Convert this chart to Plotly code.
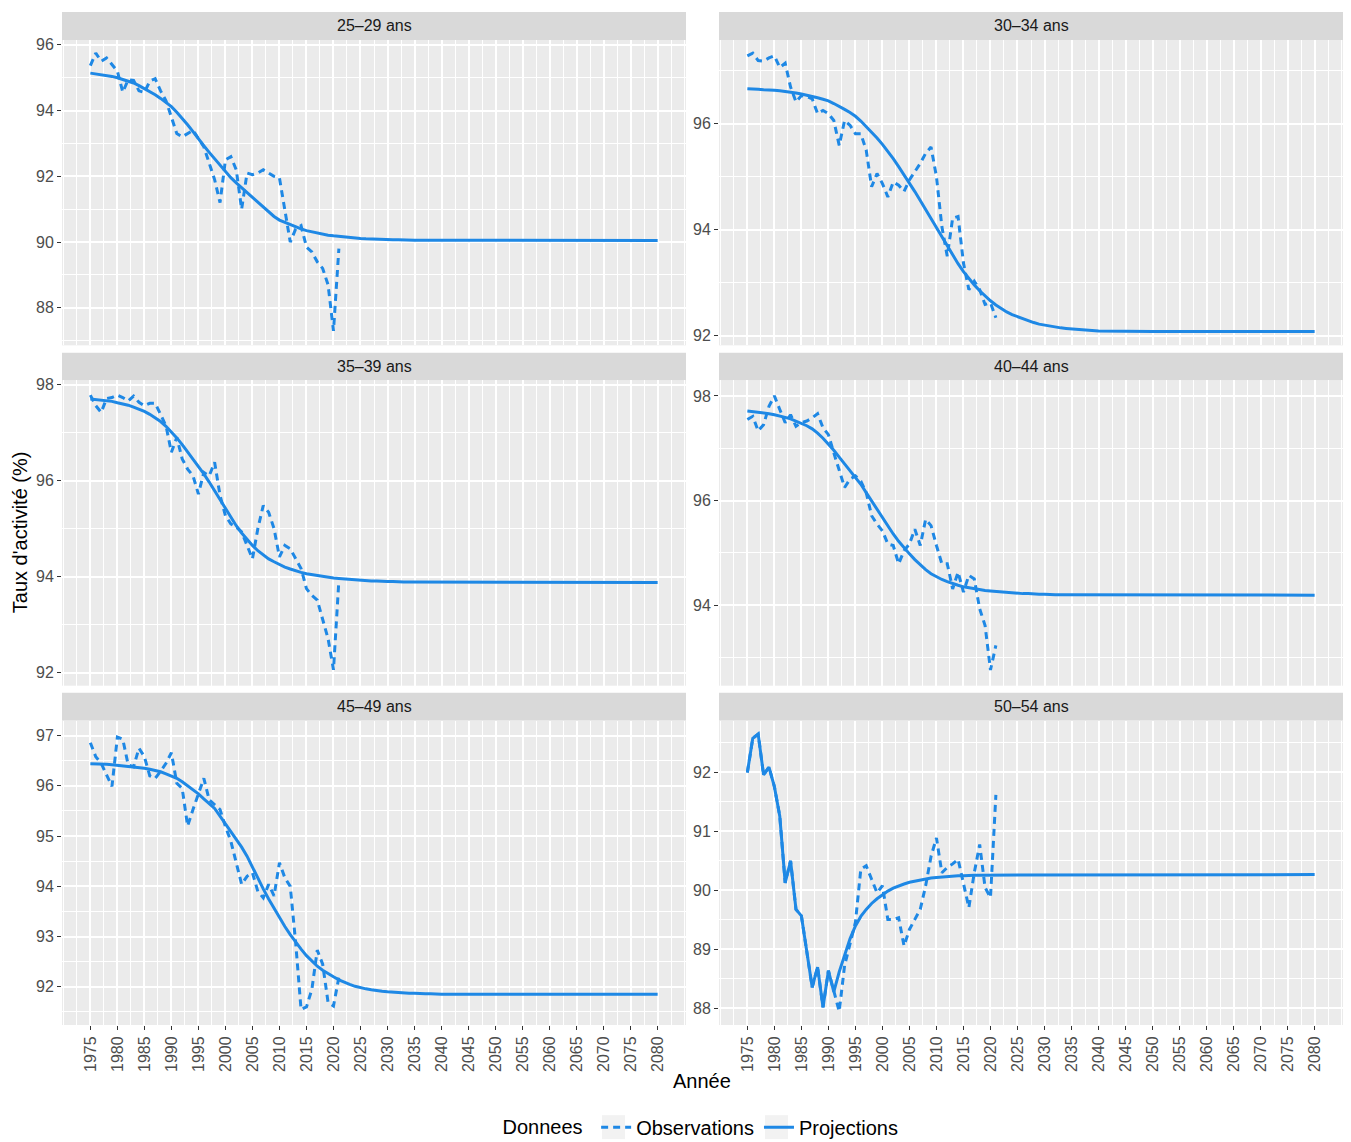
import plotly.graph_objects as go

# ---------------- data ----------------
panels = ["25–29 ans", "30–34 ans", "35–39 ans", "40–44 ans", "45–49 ans", "50–54 ans"]

obs_years = list(range(1975, 2022))
proj_years = list(range(1975, 2041)) + [2050, 2060, 2070, 2080]

obs_25_29 = [95.37, 95.75, 95.50, 95.60, 95.40, 95.20, 94.56, 94.94, 94.92, 94.60,
             94.55, 94.90, 94.97, 94.60, 94.30, 93.80, 93.30, 93.20, 93.30, 93.40,
             93.15, 92.90, 92.40, 91.90, 91.20, 92.50, 92.60, 92.20, 91.00, 92.10,
             92.05, 92.10, 92.20, 92.10, 92.00, 91.95, 91.00, 90.00, 90.40, 90.50,
             89.85, 89.70, 89.40, 89.20, 88.70, 87.30, 89.80]
obs_30_34 = [97.28, 97.33, 97.19, 97.18, 97.24, 97.28, 97.06, 97.14, 96.69, 96.41,
             96.53, 96.51, 96.47, 96.19, 96.25, 96.19, 96.06, 95.59, 96.06, 95.97,
             95.81, 95.81, 95.50, 94.81, 95.06, 94.87, 94.62, 94.90, 94.84, 94.72,
             94.94, 95.09, 95.25, 95.44, 95.56, 95.00, 94.06, 93.50, 94.22, 94.25,
             93.37, 92.87, 93.03, 92.87, 92.59, 92.62, 92.34]
obs_35_39 = [97.78, 97.56, 97.42, 97.71, 97.73, 97.78, 97.73, 97.66, 97.76, 97.63,
             97.56, 97.61, 97.61, 97.38, 97.14, 96.59, 96.90, 96.45, 96.24, 96.10,
             95.72, 96.17, 96.10, 96.38, 95.69, 95.27, 95.10, 95.03, 94.93, 94.65,
             94.37, 95.00, 95.48, 95.34, 95.00, 94.41, 94.65, 94.58, 94.37, 94.17,
             93.75, 93.61, 93.51, 93.13, 92.71, 92.06, 93.92]
obs_40_44 = [97.55, 97.61, 97.33, 97.45, 97.80, 98.00, 97.74, 97.49, 97.64, 97.42,
             97.49, 97.52, 97.58, 97.66, 97.39, 97.26, 96.91, 96.60, 96.25, 96.41,
             96.47, 96.37, 96.15, 95.71, 95.55, 95.42, 95.17, 95.14, 94.79, 95.04,
             95.17, 95.45, 95.14, 95.64, 95.52, 95.14, 94.79, 94.79, 94.31, 94.63,
             94.25, 94.57, 94.50, 93.93, 93.61, 92.76, 93.23]
obs_45_49 = [96.86, 96.58, 96.45, 96.22, 95.99, 96.97, 96.93, 96.42, 96.38, 96.75,
             96.58, 96.20, 96.15, 96.29, 96.45, 96.66, 96.05, 95.95, 95.20, 95.53,
             95.82, 96.15, 95.72, 95.62, 95.53, 95.19, 94.90, 94.47, 94.04, 94.20,
             94.27, 93.90, 93.77, 94.04, 93.81, 94.47, 94.17, 94.00, 92.88, 91.55,
             91.60, 91.95, 92.73, 92.45, 91.69, 91.62, 92.19]
obs_50_54 = [92.00, 92.58, 92.65, 91.96, 92.09, 91.76, 91.26, 90.13, 90.50, 89.68,
             89.57, 89.00, 88.36, 88.70, 88.02, 88.64, 88.28, 87.95, 88.73, 89.12,
             89.46, 90.36, 90.42, 90.19, 89.96, 90.08, 89.51, 89.51, 89.54, 89.06,
             89.34, 89.51, 89.68, 90.08, 90.58, 90.89, 90.30, 90.39, 90.45, 90.53,
             90.10, 89.71, 90.30, 90.78, 90.05, 89.88, 91.62]

proj_25_29 = [95.14, 95.12, 95.10, 95.07, 95.04, 95.00, 94.95, 94.90, 94.84, 94.76,
              94.67, 94.58, 94.48, 94.37, 94.25, 94.12, 93.95, 93.77, 93.57, 93.36,
              93.13, 92.93, 92.73, 92.53, 92.33, 92.13, 91.96, 91.80, 91.65, 91.50,
              91.36, 91.20, 91.05, 90.91, 90.78, 90.67, 90.60, 90.52, 90.46, 90.40,
              90.35, 90.31, 90.27, 90.24, 90.21, 90.19, 90.17, 90.15, 90.13, 90.12,
              90.11, 90.10, 90.09, 90.08, 90.08, 90.07, 90.07, 90.07, 90.06, 90.06,
              90.06, 90.06, 90.06, 90.05, 90.05, 90.05,
              90.05, 90.05, 90.05, 90.05]
proj_30_34 = [96.66, 96.66, 96.65, 96.64, 96.64, 96.63, 96.62, 96.61, 96.59, 96.58,
              96.56, 96.54, 96.52, 96.49, 96.46, 96.43, 96.38, 96.33, 96.27, 96.21,
              96.14, 96.05, 95.95, 95.84, 95.73, 95.61, 95.48, 95.34, 95.19, 95.04,
              94.88, 94.72, 94.55, 94.38, 94.20, 94.02, 93.85, 93.68, 93.52, 93.36,
              93.21, 93.08, 92.96, 92.85, 92.75, 92.66, 92.58, 92.51, 92.45, 92.40,
              92.36, 92.32, 92.28, 92.25, 92.22, 92.20, 92.18, 92.16, 92.15, 92.14,
              92.13, 92.12, 92.11, 92.10, 92.10, 92.09,
              92.08, 92.08, 92.08, 92.08]
proj_35_39 = [97.70, 97.69, 97.68, 97.67, 97.65, 97.62, 97.60, 97.57, 97.53, 97.49,
              97.44, 97.38, 97.31, 97.23, 97.13, 97.02, 96.89, 96.75, 96.60, 96.45,
              96.30, 96.14, 95.97, 95.79, 95.60, 95.41, 95.23, 95.06, 94.91, 94.77,
              94.65, 94.54, 94.45, 94.37, 94.31, 94.25, 94.20, 94.16, 94.12, 94.09,
              94.06, 94.04, 94.02, 94.00, 93.98, 93.97, 93.96, 93.95, 93.94, 93.93,
              93.92, 93.92, 93.91, 93.91, 93.90, 93.90, 93.90, 93.89, 93.89, 93.89,
              93.89, 93.89, 93.88, 93.88, 93.88, 93.88,
              93.88, 93.88, 93.88, 93.88]
proj_40_44 = [97.71, 97.70, 97.69, 97.68, 97.66, 97.64, 97.62, 97.59, 97.56, 97.52,
              97.48, 97.43, 97.37, 97.29, 97.19, 97.08, 96.96, 96.83, 96.70, 96.57,
              96.45, 96.31, 96.15, 95.99, 95.82, 95.66, 95.50, 95.36, 95.22, 95.09,
              94.98, 94.87, 94.77, 94.68, 94.60, 94.54, 94.49, 94.45, 94.41, 94.38,
              94.35, 94.33, 94.31, 94.29, 94.28, 94.27, 94.26, 94.25, 94.24, 94.23,
              94.23, 94.22, 94.22, 94.21, 94.21, 94.21, 94.20, 94.20, 94.20, 94.20,
              94.20, 94.19, 94.19, 94.19, 94.19, 94.19,
              94.19, 94.19, 94.19, 94.19]
proj_45_49 = [96.44, 96.44, 96.43, 96.43, 96.42, 96.41, 96.40, 96.39, 96.38, 96.37,
              96.35, 96.33, 96.31, 96.28, 96.24, 96.20, 96.15, 96.08, 96.00, 95.92,
              95.84, 95.74, 95.64, 95.55, 95.40, 95.25, 95.10, 94.95, 94.78, 94.60,
              94.38, 94.15, 93.95, 93.75, 93.56, 93.38, 93.20, 93.04, 92.89, 92.75,
              92.62, 92.51, 92.41, 92.33, 92.26, 92.20, 92.14, 92.09, 92.05, 92.01,
              91.98, 91.96, 91.94, 91.92, 91.91, 91.90, 91.89, 91.88, 91.88, 91.87,
              91.87, 91.86, 91.86, 91.86, 91.85, 91.85,
              91.85, 91.85, 91.85, 91.85]
proj_50_54 = [92.00, 92.58, 92.65, 91.96, 92.09, 91.76, 91.26, 90.13, 90.50, 89.68,
              89.57, 89.00, 88.36, 88.70, 88.02, 88.64, 88.28, 88.62, 88.92, 89.18,
              89.40, 89.56, 89.68, 89.78, 89.86, 89.93, 89.99, 90.04, 90.08, 90.11,
              90.14, 90.16, 90.18, 90.20, 90.21, 90.22, 90.23, 90.24, 90.24, 90.25,
              90.25, 90.26, 90.26, 90.26, 90.26, 90.26, 90.27, 90.27, 90.27, 90.27,
              90.27, 90.27, 90.27, 90.27, 90.27, 90.27, 90.27, 90.27, 90.27, 90.27,
              90.27, 90.27, 90.27, 90.27, 90.27, 90.27,
              90.27, 90.27, 90.27, 90.27]

obs_series = [obs_25_29, obs_30_34, obs_35_39, obs_40_44, obs_45_49, obs_50_54]
proj_series = [proj_25_29, proj_30_34, proj_35_39, proj_40_44, proj_45_49, proj_50_54]

x_ticks = list(range(1975, 2081, 5))
x_minor = [1970 + 2.5 * i for i in range(47)]
y_ranges = [(86.86, 96.15), (91.82, 97.58), (91.73, 98.09),
            (92.46, 98.30), (91.24, 97.30), (87.72, 92.88)]
y_dticks = [2, 2, 2, 2, 1, 1]

# ---------------- layout geometry (screen pixels) ----------------
OFF = 8                     # page body margin offset of the figure div
W, H = 1351 - OFF, 1142 - OFF + 30   # extra height below the viewport keeps the legend inside the paper
col_x = [(62, 686), (719, 1343)]
row_y = [(36, 342.5), (377.5, 684), (719, 1024.5)]
strip_y = [(8, 36), (350, 377.5), (691, 719)]
key_x = [(602, 625), (765, 788)]
key_y = (1115, 1139)

COLOR = "#1E88E5"
FONT = "Liberation Sans, Arial, sans-serif"

def px_x(v):
    return (v - OFF) / W

def px_y(v):
    return 1 - (v - OFF) / H

fig = go.Figure()
layout = dict(
    width=W, height=H,
    margin=dict(l=0, r=0, t=0, b=0),
    paper_bgcolor="white",
    plot_bgcolor="#EBEBEB",
    font=dict(family=FONT, color="#000000"),
    shapes=[], annotations=[],
)

for i, name in enumerate(panels):
    r, c = divmod(i, 2)
    ax = "" if i == 0 else str(i + 1)
    xa, ya = "x" + ax, "y" + ax
    bottom = (r == 2)
    layout["xaxis" + ax] = dict(
        domain=[px_x(col_x[c][0]), px_x(col_x[c][1])],
        anchor=ya,
        range=[1969.75, 2085.25],
        tickmode="array", tickvals=x_ticks, ticktext=[str(t) for t in x_ticks],
        showticklabels=bottom, ticks="outside" if bottom else "",
        ticklen=4, tickwidth=1.1, tickcolor="#333333",
        tickangle=-90, tickfont=dict(size=16, color="#4D4D4D", family=FONT),
        showgrid=True, gridcolor="white", gridwidth=2,
        minor=dict(tickmode="array", tickvals=x_minor, showgrid=True,
                   gridcolor="white", gridwidth=1, ticks=""),
        zeroline=False, showline=False,
    )
    layout["yaxis" + ax] = dict(
        domain=[px_y(row_y[r][1]), px_y(row_y[r][0])],
        anchor=xa,
        range=list(y_ranges[i]),
        tickmode="linear", tick0=0, dtick=y_dticks[i],
        ticks="outside", ticklen=4, tickwidth=1.1, tickcolor="#333333",
        tickfont=dict(size=16, color="#4D4D4D", family=FONT),
        showgrid=True, gridcolor="white", gridwidth=2,
        minor=dict(dtick=y_dticks[i] / 2, showgrid=True,
                   gridcolor="white", gridwidth=1, ticks=""),
        zeroline=False, showline=False,
    )
    # facet strip
    layout["shapes"].append(dict(
        type="rect", xref="paper", yref="paper", layer="below",
        x0=px_x(col_x[c][0]), x1=px_x(col_x[c][1]),
        y0=px_y(strip_y[r][1]), y1=px_y(strip_y[r][0]),
        fillcolor="#D9D9D9", line=dict(width=0),
    ))
    layout["annotations"].append(dict(
        text=name, xref="paper", yref="paper", showarrow=False,
        x=px_x((col_x[c][0] + col_x[c][1]) / 2),
        y=px_y((strip_y[r][0] + strip_y[r][1]) / 2),
        xanchor="center", yanchor="middle",
        font=dict(size=16, color="#1A1A1A", family=FONT),
    ))

    fig.add_trace(go.Scatter(
        x=obs_years, y=obs_series[i], mode="lines", xaxis=xa, yaxis=ya,
        name="Observations", legendgroup="obs", showlegend=(i == 0),
        line=dict(color=COLOR, width=3, dash="7px,5px"),
        hoverinfo="skip",
    ))
    fig.add_trace(go.Scatter(
        x=proj_years, y=proj_series[i], mode="lines", xaxis=xa, yaxis=ya,
        name="Projections", legendgroup="proj", showlegend=(i == 0),
        line=dict(color=COLOR, width=3),
        hoverinfo="skip",
    ))

# light grey legend key backgrounds (ggplot style)
for kx in key_x:
    layout["shapes"].append(dict(
        type="rect", xref="paper", yref="paper", layer="below",
        x0=px_x(kx[0]), x1=px_x(kx[1]), y0=px_y(key_y[1]), y1=px_y(key_y[0]),
        fillcolor="#F2F2F2", line=dict(width=0),
    ))

layout["annotations"].append(dict(
    text="Année", xref="paper", yref="paper", showarrow=False,
    x=px_x(702.5), y=px_y(1081), xanchor="center", yanchor="middle",
    font=dict(size=20, color="#000000", family=FONT),
))
layout["annotations"].append(dict(
    text="Taux d'activité (%)", xref="paper", yref="paper", showarrow=False,
    x=px_x(20), y=px_y(530), xanchor="center", yanchor="middle", textangle=-90,
    font=dict(size=20, color="#000000", family=FONT),
))
layout["legend"] = dict(
    orientation="h", x=px_x(702), xanchor="center", y=px_y(1127), yanchor="middle",
    title=dict(text="Donnees ", side="left", font=dict(size=20, family=FONT)),
    font=dict(size=20, family=FONT, color="#000000"),
    itemwidth=30, bgcolor="rgba(0,0,0,0)",
)

fig.update_layout(**layout)
fig.write_html("out.html")
